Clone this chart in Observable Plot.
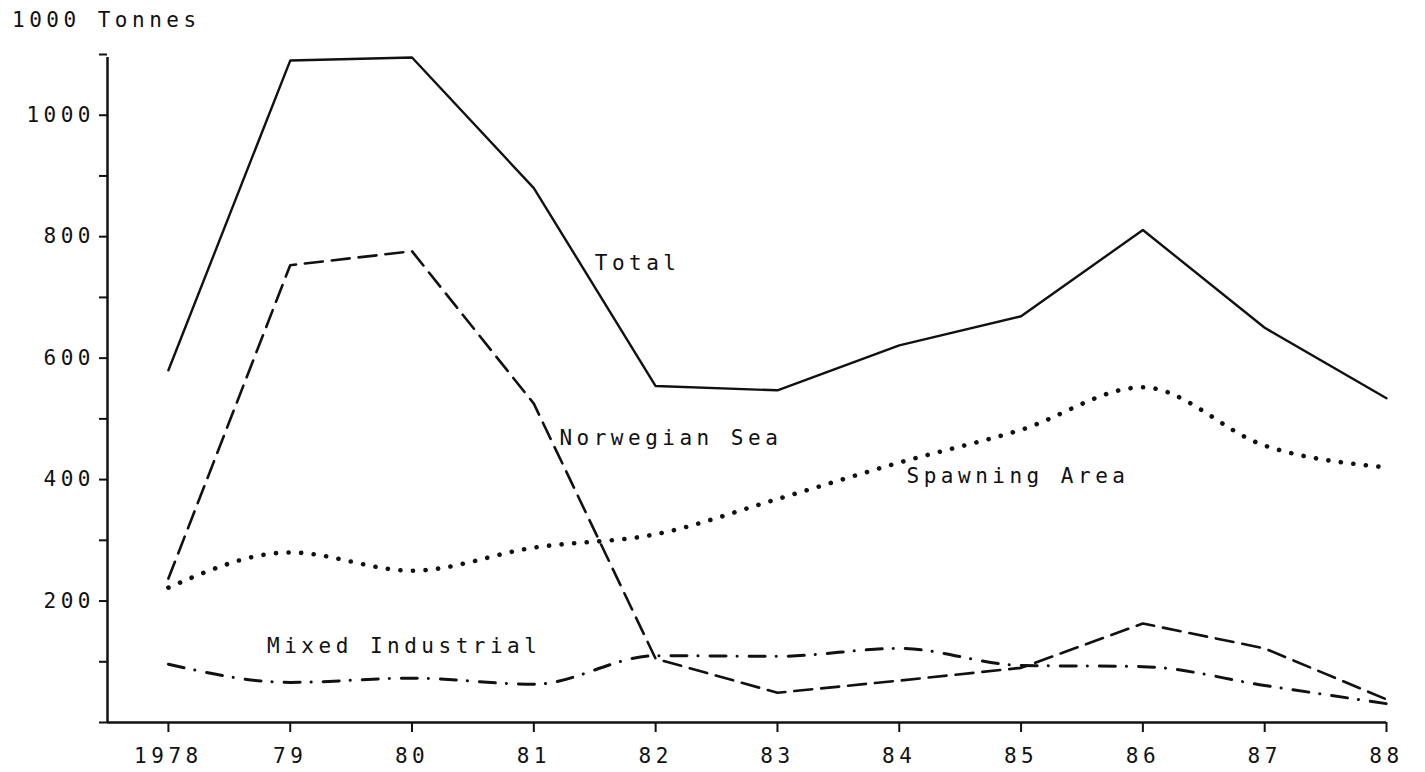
<!DOCTYPE html>
<html>
<head>
<meta charset="utf-8">
<script src="https://cdn.jsdelivr.net/npm/d3@7"></script>
<script src="https://cdn.jsdelivr.net/npm/@observablehq/plot@0.6"></script>
<style>
  html, body { margin: 0; padding: 0; background: #fff; }
  #title {
    height: 30px; padding: 8px 0 0 12px; box-sizing: content-box;
    font-family: 'DejaVu Sans Mono', monospace; font-size: 21px; line-height: 24px;
    letter-spacing: 4.5px; color: #111; white-space: pre;
  }
  svg { display: block; }
  svg text { letter-spacing: 4.5px; }
</style>
</head>
<body>
<div id="title"></div>
<div id="chart"></div>
<script>
// ---- data (1000 tonnes) ----
const years = [1978, 1979, 1980, 1981, 1982, 1983, 1984, 1985, 1986, 1987, 1988];
const yearLabels = ["1978", "79", "80", "81", "82", "83", "84", "85", "86", "87", "88"];
const total =           [580, 1090, 1095, 880, 554, 547, 621, 669, 811, 650, 534];
const norwegianSea =    [237,  753,  776, 525, 105,  49,  69,  90, 163, 122,  38];
const spawningArea =    [222,  280,  250, 288, 310, 368, 428, 482, 552, 456, 420];
const mixedIndustrial = [ 96,   66,   73,  63, 110, 109, 122,  94,  92,  61,  31];

const seriesNames = ["Total", "Norwegian Sea", "Spawning Area", "Mixed Industrial"];
const labelYears  = [1981.5, 1981.21, 1984.06, 1978.81];
const labelValues = [756, 468, 405, 125];

const yTicks = [0, 100, 200, 300, 400, 500, 600, 700, 800, 900, 1000, 1100];
const yTickLabels = [200, 400, 600, 800, 1000];
const yAxisTitle = "1000 Tonnes";

document.getElementById("title").textContent = yAxisTitle;

// ---- build tables ----
const rows = (vals) => years.map((year, i) => ({year, value: vals[i]}));
const labels = seriesNames.map((name, i) => ({name, year: labelYears[i], value: labelValues[i]}));

const ink = "#111";

const chart = Plot.plot({
  width: 1425,
  height: 734,
  marginLeft: 107,
  marginRight: 39,
  marginTop: 16,
  marginBottom: 50,
  style: {fontFamily: "'DejaVu Sans Mono', monospace", fontSize: "21px", color: ink, background: "#fff"},
  x: {domain: [1977.5, 1988]},
  y: {domain: [0, 1100]},
  marks: [
    Plot.axisY(yTicks, {
      tickSize: 8,
      tickPadding: 4.5,
      strokeWidth: 2,
      tickFormat: d => yTickLabels.includes(d) ? String(d) : "",
      label: null
    }),
    Plot.axisX(years, {
      tickSize: 10,
      tickPadding: 16,
      strokeWidth: 2,
      tickFormat: d => yearLabels[years.indexOf(d)],
      label: null
    }),
    Plot.ruleX([1977.5], {y1: 0, y2: 1095, stroke: ink, strokeWidth: 2.5}),
    Plot.ruleY([0], {stroke: ink, strokeWidth: 2.5}),
    Plot.line(rows(total), {x: "year", y: "value", stroke: ink, strokeWidth: 2.4, curve: "linear"}),
    Plot.line(rows(norwegianSea), {x: "year", y: "value", stroke: ink, strokeWidth: 2.6,
      curve: "linear", strokeDasharray: "18,9", strokeLinejoin: "round"}),
    Plot.line(rows(spawningArea), {x: "year", y: "value", stroke: ink, strokeWidth: 4.6,
      curve: "monotone-x", strokeDasharray: "0.1,12.5", strokeLinecap: "round"}),
    Plot.line(rows(mixedIndustrial), {x: "year", y: "value", stroke: ink, strokeWidth: 3,
      curve: "monotone-x", strokeDasharray: "16,11,0.1,12", strokeLinecap: "round"}),
    Plot.text(labels, {x: "year", y: "value", text: "name", textAnchor: "start", fill: ink})
  ]
});
document.getElementById("chart").appendChild(chart);
</script>
</body>
</html>
